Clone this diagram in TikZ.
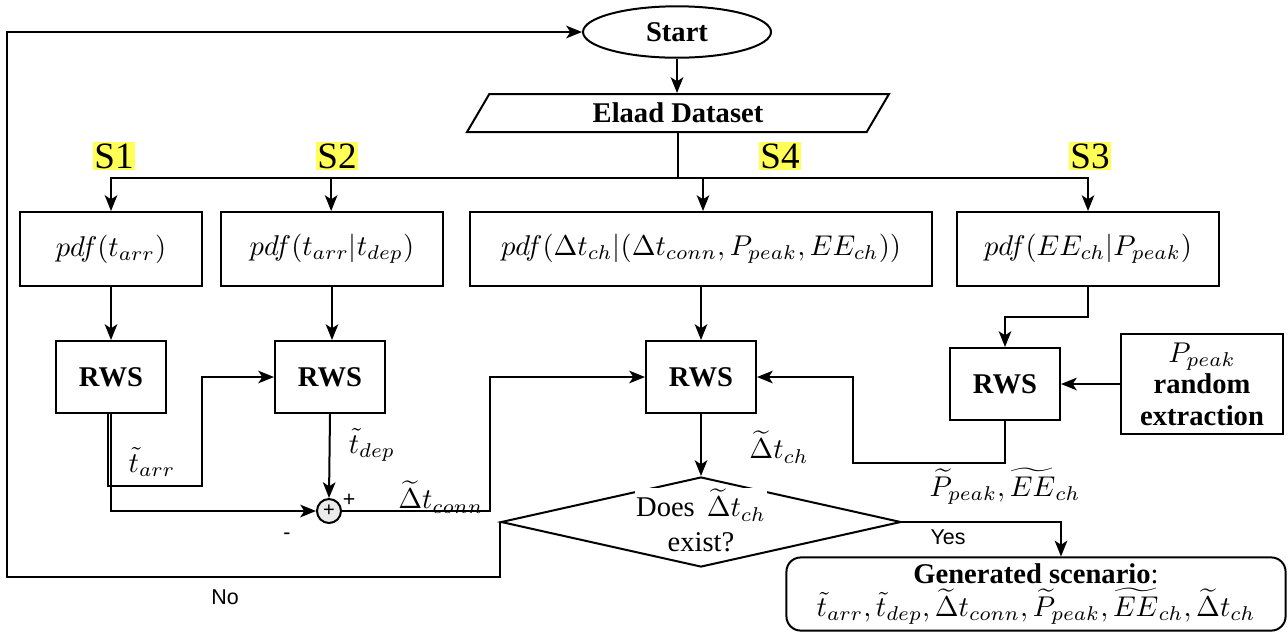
\documentclass[tikz,border=0pt]{standalone}
\usepackage{amsmath}
\usepackage[no-math]{fontspec}
\setmainfont{Liberation Serif}
\setsansfont{Liberation Sans}
\usepackage{tikz}
\usetikzlibrary{arrows.meta,positioning,shapes.geometric}
\definecolor{hlyellow}{RGB}{255,255,85}

\begin{document}
\begin{tikzpicture}[
  x=0.35pt,y=-0.35pt,
  line width=0.7pt,
  >={Stealth[length=5.5pt,width=4.4pt,inset=1.4pt]},
  pdfbox/.style={draw,minimum height=25.9pt},
  rwsbox/.style={draw,minimum width=38.5pt,minimum height=25.2pt,font=\bfseries},
  terminal/.style={draw,ellipse,minimum width=65.8pt,minimum height=18pt,inner sep=0pt,font=\bfseries},
  iobox/.style={draw,trapezium,trapezium left angle=42,trapezium right angle=138,
    trapezium stretches body,minimum width=147.7pt,minimum height=13.3pt,inner sep=0pt,font=\bfseries},
  decision/.style={draw,diamond,minimum width=140pt,minimum height=31.5pt,inner sep=0pt},
  sumnode/.style={draw,circle,fill=black!8,minimum size=8.4pt,inner sep=0pt,font=\sffamily\scriptsize},
  stage/.style={fill=hlyellow,inner sep=0.6pt,font=\fontsize{13}{15}\selectfont},
  sflabel/.style={font=\sffamily\fontsize{7.5}{9}\selectfont}]
  \useasboundingbox (0,0) rectangle (1288,632);
  % S1..S4: the four sampling stages, RWS: roulette wheel sampling
  \node [terminal] (start) at (677,32) {Start};
  \node [iobox] (data) at (678,113) {Elaad Dataset};
  \coordinate (bus) at (678,178);

  \node [pdfbox,minimum width=63.4pt] (pa) at (111,249) {$pdf(t_{arr})$};
  \node [pdfbox,minimum width=77.7pt] (pb) at (332,249) {$pdf(t_{arr}|t_{dep})$};
  \node [pdfbox,minimum width=161.7pt] (pc) at (701,249) {$pdf(\Delta t_{ch}|(\Delta t_{conn},P_{peak},EE_{ch}))$};
  \node [pdfbox,minimum width=91.4pt] (pd) at (1088,249) {$pdf(EE_{ch}|P_{peak})$};

  \node [stage] at (114,156) {S1};
  \node [stage] at (337,156) {S2};
  \node [stage] at (780,156) {S4};
  \node [stage] at (1090,156) {S3};

  \node [rwsbox] (ra) at (111,377) {RWS};
  \node [rwsbox] (rb) at (330,377) {RWS};
  \node [rwsbox] (rc) at (701,377) {RWS};
  \node [rwsbox] (rd) at (1005,384) {RWS};
  \node [draw,minimum width=57pt,minimum height=35pt,align=center,inner sep=1pt] (pp) at (1202,384)
    {$P_{peak}$\\[-1pt] \textbf{random}\\[-1pt] \textbf{extraction}};

  \node [sumnode] (sum) at (329,511) {+};
  \node [decision] (dia) at (701,522) {};
  \node [fill=white,inner sep=0.5pt] at (701,505) {Does \,$\widetilde{\Delta}t_{ch}$};
  \node [inner sep=0.5pt] at (701,542) {exist?};
  \node [draw,rounded corners=5pt,minimum width=174.7pt,minimum height=25.6pt,align=center,inner sep=0.5pt] (gen) at (1036,594)
    {\textbf{Generated scenario}:\\[-0.5pt]
     $\tilde{t}_{arr},\tilde{t}_{dep},\widetilde{\Delta}t_{conn},\widetilde{P}_{peak},\widetilde{EE}_{ch},\widetilde{\Delta}t_{ch}$};

  \draw [->] (start.south) -- (start.south |- data.north);
  \draw (data.center |- data.south) -- (bus);
  \draw [->] (bus) -| (pa.north);
  \draw [->] (bus) -| ([xshift=-0.3pt]pb.north);
  \draw [->] (bus) -| ([xshift=0.7pt]pc.north);
  \draw [->] (bus) -| (pd.north);

  \draw [->] (pa) -- (ra);
  \draw [->] (pb.south) -- (pb.south |- rb.north);
  \draw [->] (pc) -- (rc);
  \draw [->] (pd.south) -- ++(0,30) -| (rd.north);
  \draw [->] (pp) -- (rd);
  \draw [->] (rd.south) -- ++(0,42) -- ++(-152,0) |- (rc.east);
  \node at (1005,486) {$\widetilde{P}_{peak},\widetilde{EE}_{ch}$};

  \draw [->] ([xshift=-1pt]ra.south) -- ++(0,72) -- ++(94,0) |- (rb.west);
  \node at (152,462) {$\tilde{t}_{arr}$};
  \draw [->] (ra.south) |- (sum.west);
  \draw [->] (rb.south) -- (sum.north);
  \node at (372,445) {$\tilde{t}_{dep}$};
  \node [sflabel] at (349,500) {+};
  \node [sflabel] at (287,536) {-};
  \draw [->] (sum.east) -- ++(148,0) |- (rc.west);
  \node at (441,497) {$\widetilde{\Delta}t_{conn}$};

  \draw [->] (rc) -- (dia.north);
  \node at (779,447) {$\widetilde{\Delta}t_{ch}$};
  \draw [->] (dia.east) -| ([xshift=8.75pt]gen.north);
  \node [sflabel] at (948,537) {Yes};
  \draw [->] (dia.west) -- ++(0,55) -- ++(-493,0) |- (start.west);
  \node [sflabel] at (225,597) {No};
\end{tikzpicture}
\end{document}
